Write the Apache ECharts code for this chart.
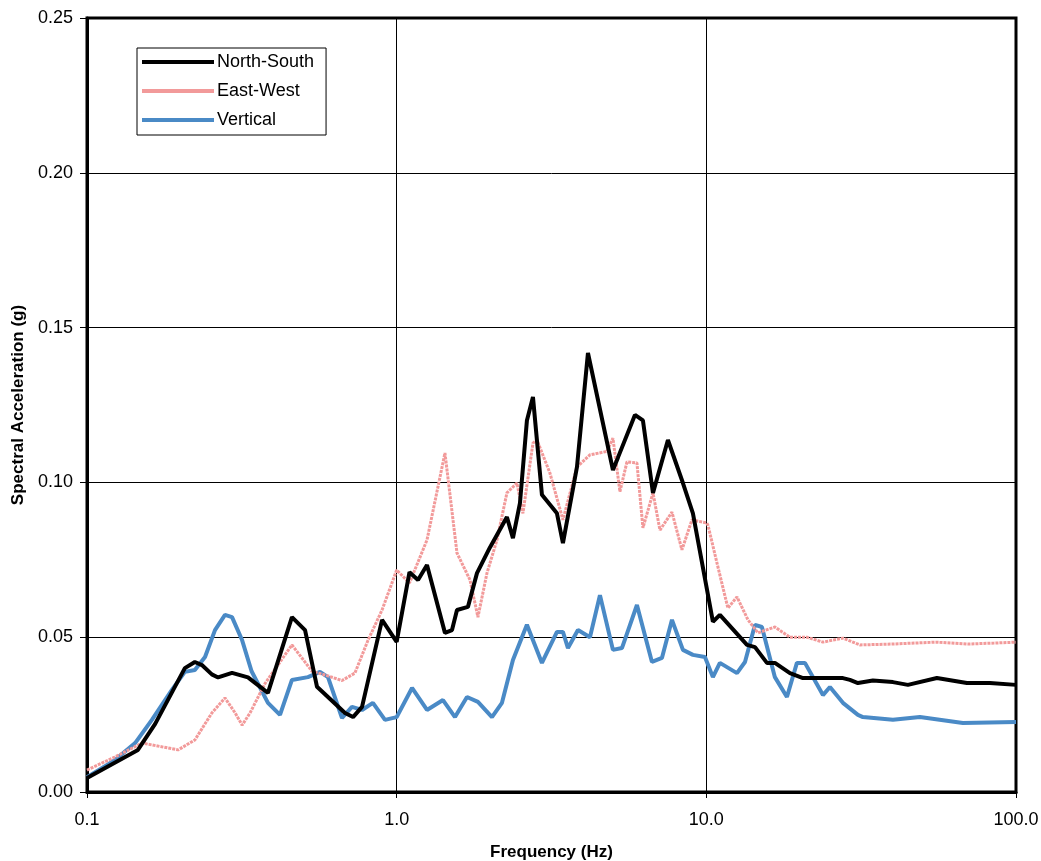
<!DOCTYPE html>
<html>
<head>
<meta charset="utf-8">
<script src="https://cdn.jsdelivr.net/npm/echarts@6/dist/echarts.min.js"></script>
<style>html,body{margin:0;padding:0;background:#fff;}#c{width:1041px;height:861px;}</style>
</head>
<body>
<div id="c"></div>
<script>
const xTickLabels = ['0.1', '1.0', '10.0', '100.0'];
const yTickLabels = ['0.00', '0.05', '0.10', '0.15', '0.20', '0.25'];
const seriesNames = ['North-South', 'East-West', 'Vertical'];

const nsFreq = [0.1,0.146,0.166,0.207,0.223,0.235,0.253,0.265,0.294,0.331,0.384,0.459,0.506,0.553,0.600,0.681,0.723,0.773,0.897,1.0,1.10,1.172,1.253,1.432,1.509,1.566,1.699,1.817,2.001,2.270,2.374,2.501,2.634,2.755,2.945,3.293,3.443,3.822,4.147,4.993,5.182,5.881,6.241,6.725,7.516,8.403,9.051,10.50,11.06,13.53,14.36,15.69,16.65,18.62,20.51,23.80,27.61,29.09,30.87,34.51,40.05,44.77,55.53,69.41,82.35,100];
const nsVal = [0.0045,0.0136,0.022,0.040,0.042,0.041,0.038,0.037,0.0385,0.037,0.032,0.0565,0.0523,0.034,0.0307,0.0255,0.0242,0.0275,0.0556,0.0485,0.071,0.0685,0.0733,0.0514,0.0523,0.0588,0.0598,0.0707,0.079,0.0888,0.082,0.0933,0.120,0.1276,0.096,0.090,0.0804,0.105,0.1418,0.104,0.108,0.1218,0.120,0.0966,0.1137,0.0998,0.090,0.055,0.0572,0.0475,0.0468,0.0417,0.0417,0.0384,0.0368,0.0368,0.0368,0.0362,0.0352,0.036,0.0355,0.0346,0.0368,0.0352,0.0352,0.0346];

const ewFreq = [0.1,0.123,0.1505,0.197,0.223,0.253,0.279,0.301,0.317,0.336,0.3755,0.459,0.533,0.587,0.666,0.733,0.808,0.897,1.0,1.10,1.253,1.432,1.566,1.725,1.830,1.957,2.108,2.270,2.446,2.557,2.755,2.838,3.126,3.443,3.822,4.209,4.775,4.993,5.260,5.541,5.969,6.241,6.725,7.083,7.745,8.341,8.984,10.04,10.12,10.90,11.74,12.56,13.63,14.68,16.65,18.62,21.12,23.80,27.61,31.33,40.0,55.0,70.0,85.0,100];
const ewVal = [0.0071,0.0113,0.0158,0.0136,0.0168,0.0255,0.0304,0.0255,0.0216,0.0255,0.035,0.0475,0.039,0.0378,0.036,0.0384,0.049,0.0588,0.0717,0.0675,0.0814,0.1095,0.0772,0.0685,0.0565,0.0707,0.0814,0.0966,0.0998,0.090,0.1127,0.1137,0.103,0.0879,0.105,0.1089,0.110,0.1143,0.097,0.1066,0.1063,0.0853,0.0966,0.0846,0.0904,0.0782,0.0879,0.0869,0.0862,0.0727,0.0594,0.063,0.0556,0.0514,0.0533,0.050,0.050,0.0484,0.0497,0.0475,0.0478,0.0484,0.0478,0.0481,0.0484];

const vFreq = [0.1,0.123,0.143,0.162,0.188,0.207,0.223,0.2405,0.259,0.279,0.294,0.317,0.34,0.384,0.420,0.459,0.517,0.5655,0.600,0.666,0.717,0.773,0.838,0.917,1.0,1.121,1.253,1.411,1.543,1.687,1.830,2.031,2.188,2.374,2.634,2.945,3.293,3.443,3.574,3.850,4.209,4.534,4.993,5.339,5.969,6.674,7.189,7.745,8.403,9.051,9.897,10.50,11.06,12.56,13.33,14.36,15.12,16.65,18.21,19.61,20.82,23.80,25.07,27.61,30.87,32.03,40.05,48.94,67.38,100];
const vVal = [0.0048,0.0103,0.0158,0.0233,0.033,0.0388,0.0394,0.0436,0.0523,0.0572,0.0565,0.049,0.039,0.0288,0.0249,0.0362,0.0371,0.0388,0.0371,0.0239,0.0275,0.0265,0.0288,0.0233,0.0242,0.0336,0.0265,0.0297,0.0242,0.0307,0.0291,0.0242,0.0288,0.0426,0.054,0.0417,0.0517,0.0517,0.0465,0.0523,0.050,0.0636,0.0459,0.0465,0.0604,0.042,0.0433,0.0556,0.0459,0.0443,0.0436,0.0371,0.0417,0.0384,0.042,0.054,0.0533,0.0371,0.0307,0.0417,0.0417,0.0313,0.0339,0.0288,0.0249,0.0242,0.0233,0.0242,0.0223,0.0226];

function pairs(f, v) { return f.map((x, i) => [x, v[i]]); }

const chart = echarts.init(document.getElementById('c'));
const font = "'Liberation Sans', Arial, sans-serif";
chart.setOption({
  backgroundColor: '#ffffff',
  animation: false,
  grid: { left: 87, right: 25, top: 18, bottom: 69, show: true, borderColor: '#000', borderWidth: 3,
    backgroundColor: 'transparent', containLabel: false, outerBoundsMode: 'none' },
  legend: {
    left: 137, top: 48, orient: 'vertical',
    backgroundColor: '#fff', borderColor: '#000', borderWidth: 1,
    padding: [3, 12, 4, 5], itemGap: 7, itemWidth: 72, itemHeight: 4,
    icon: 'rect',
    textStyle: { fontFamily: font, fontSize: 18, color: '#000', padding: [0, 0, 0, -2], lineHeight: 22 },
    data: seriesNames
  },
  xAxis: {
    type: 'log', logBase: 10, min: 0.1, max: 100,
    name: 'Frequency (Hz)', nameLocation: 'middle', nameGap: 52,
    nameTextStyle: { fontFamily: font, fontWeight: 'bold', fontSize: 17, color: '#000' },
    axisLine: { show: true, lineStyle: { color: '#000', width: 3 } },
    axisTick: { show: true, inside: false, length: 6, lineStyle: { color: '#000', width: 1 } },
    minorTick: { show: false },
    splitLine: { show: true, lineStyle: { color: '#000', width: 1 } },
    axisLabel: { fontFamily: font, fontSize: 18, color: '#000', margin: 19,
      formatter: v => xTickLabels[Math.round(Math.log10(v)) + 1] }
  },
  yAxis: {
    type: 'value', min: 0, max: 0.25, interval: 0.05,
    name: 'Spectral Acceleration (g)', nameLocation: 'middle', nameGap: 60,
    nameTextStyle: { fontFamily: font, fontWeight: 'bold', fontSize: 17, color: '#000' },
    axisLine: { show: true, lineStyle: { color: '#000', width: 3 } },
    axisTick: { show: true, inside: false, length: 7, lineStyle: { color: '#000', width: 1 } },
    splitLine: { show: true, lineStyle: { color: '#000', width: 1 } },
    axisLabel: { fontFamily: font, fontSize: 18, color: '#000', margin: 14,
      formatter: v => yTickLabels[Math.round(v / 0.05)] }
  },
  series: [
    { name: seriesNames[0], type: 'line', data: pairs(nsFreq, nsVal), symbol: 'none', showSymbol: false,
      color: '#000', lineStyle: { color: '#000', width: 4 }, z: 4 },
    { name: seriesNames[1], type: 'line', data: pairs(ewFreq, ewVal), symbol: 'none', showSymbol: false,
      color: '#f29a9a', lineStyle: { color: '#f29a9a', width: 3, type: [3, 1] }, z: 3 },
    { name: seriesNames[2], type: 'line', data: pairs(vFreq, vVal), symbol: 'none', showSymbol: false,
      color: '#4a8ac6', lineStyle: { color: '#4a8ac6', width: 4 }, z: 2 }
  ]
});
</script>
</body>
</html>
